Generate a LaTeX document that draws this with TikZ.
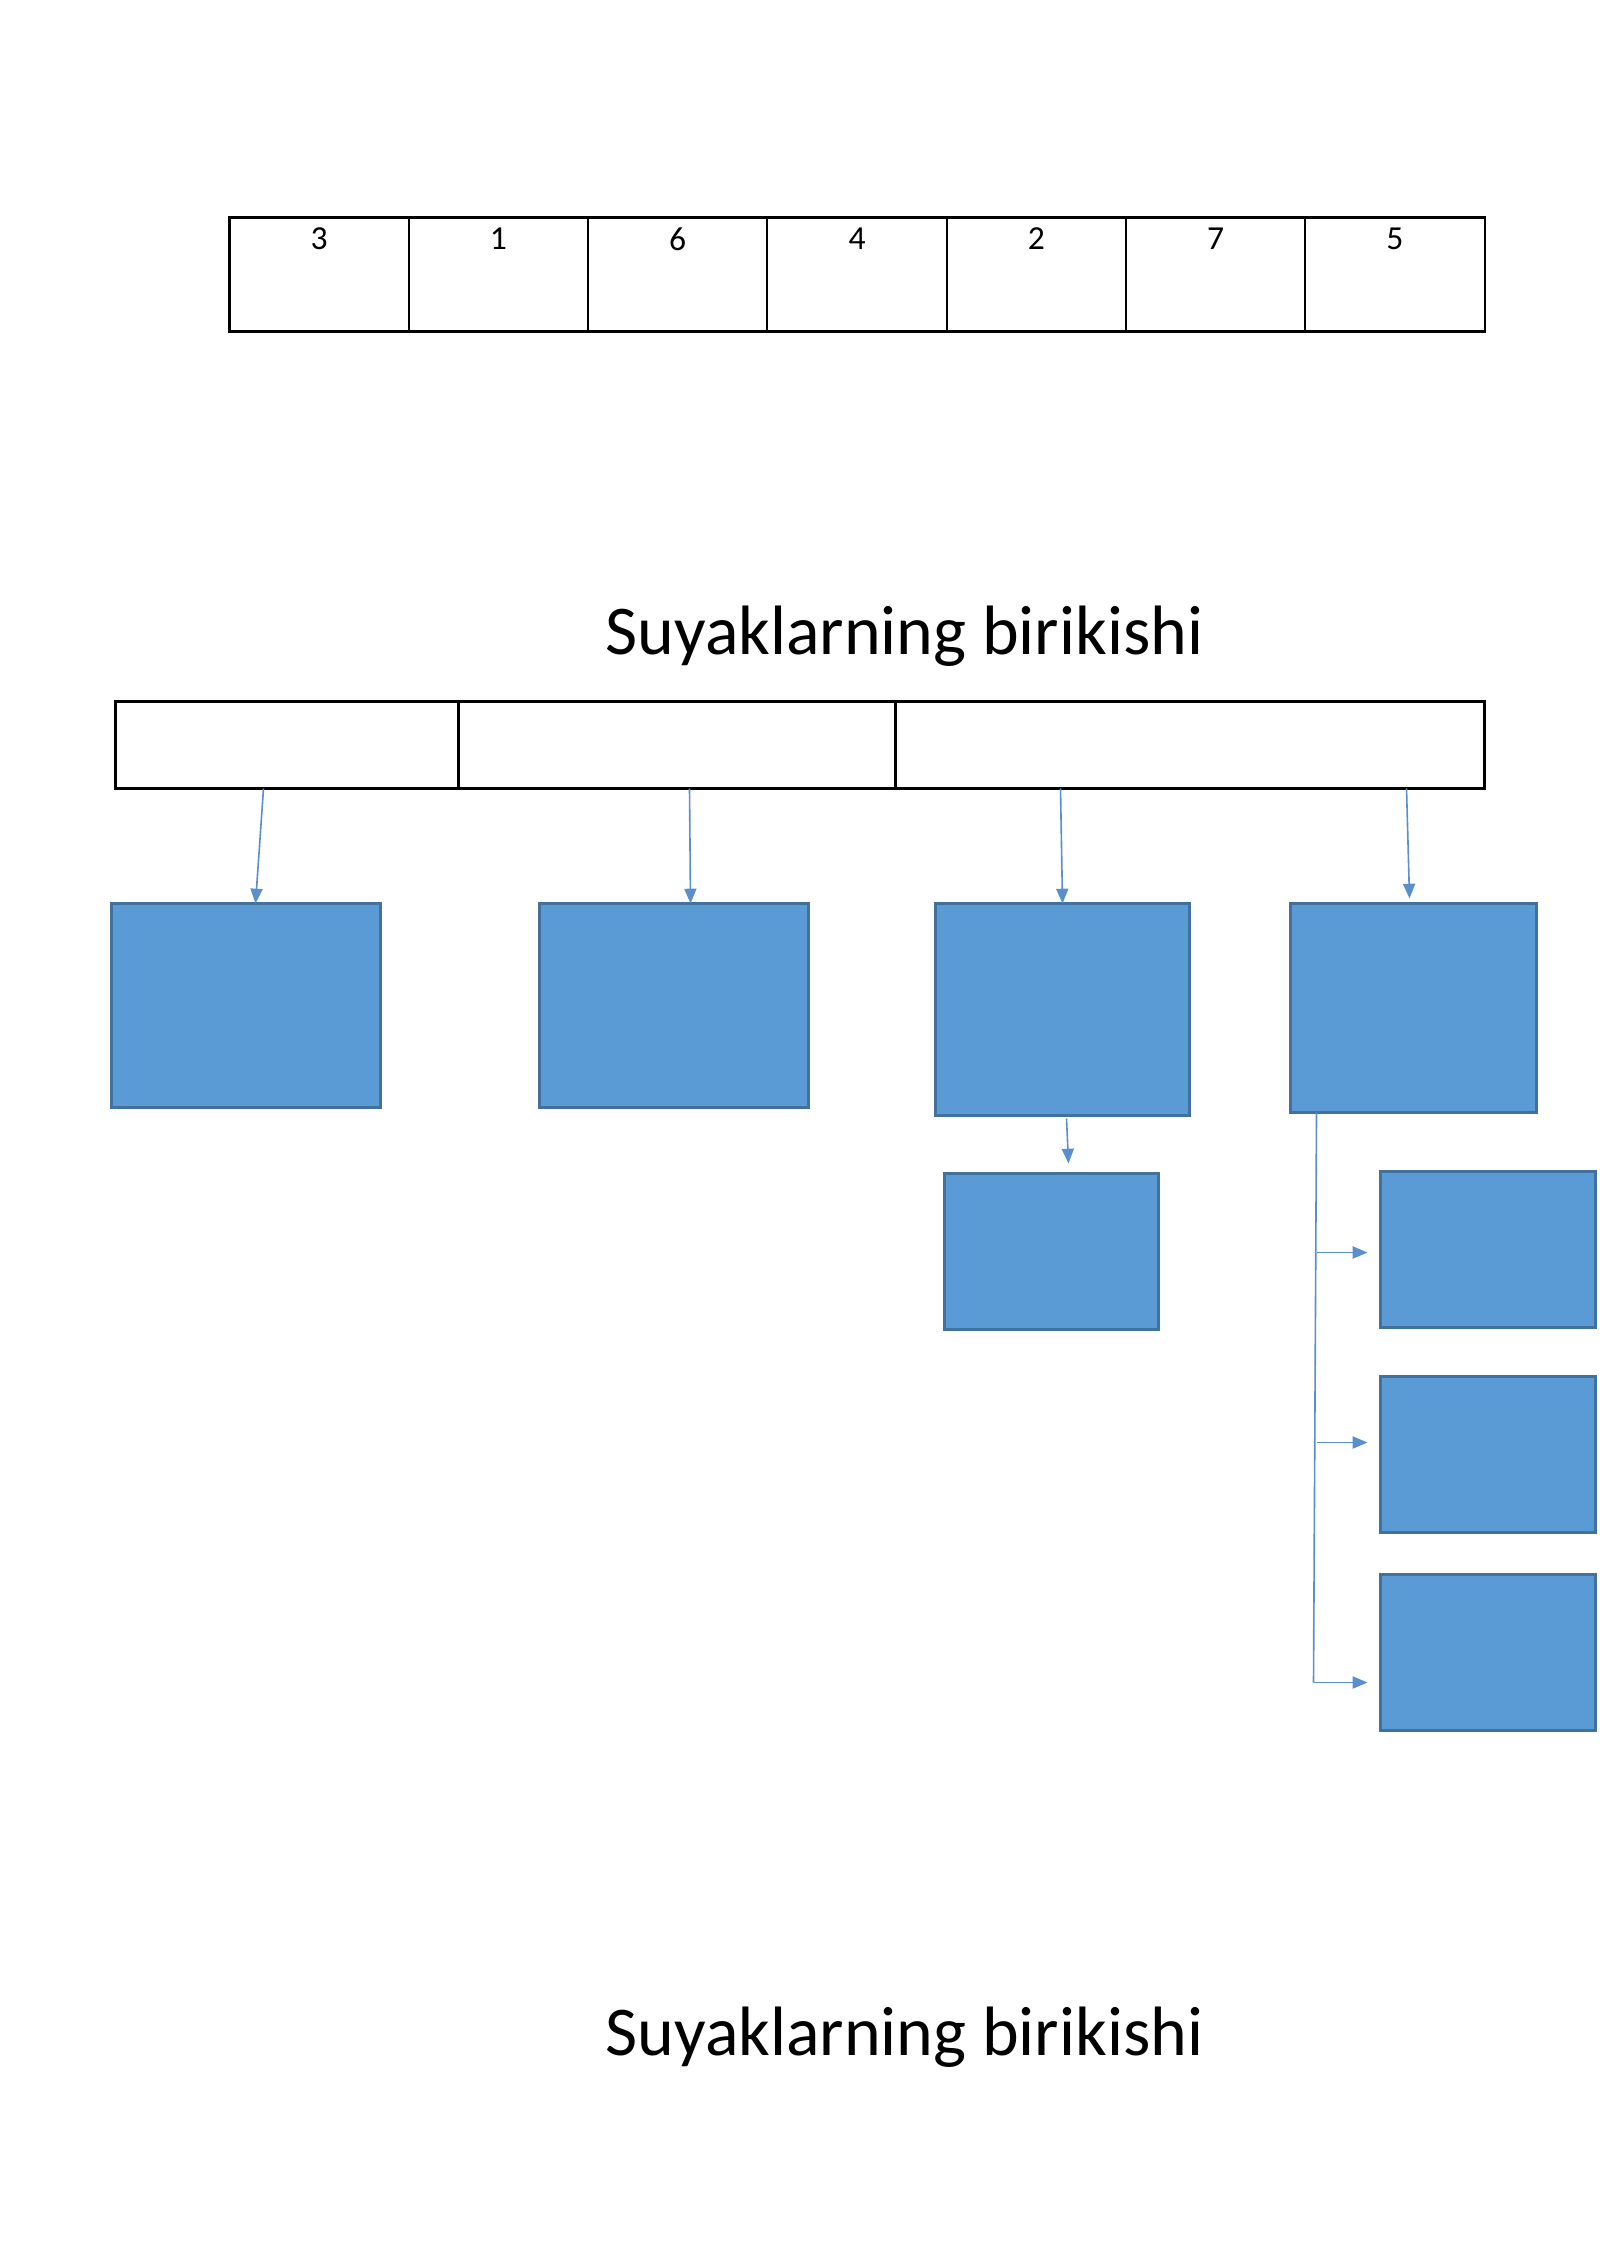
\documentclass[tikz,border=0pt]{standalone}
\usepackage{fontspec}
\setmainfont{Carlito}
\usetikzlibrary{arrows.meta,calc}
\definecolor{boxblue}{HTML}{5B9BD5}
\definecolor{boxline}{HTML}{41719C}
\definecolor{arrowblue}{HTML}{5B8FCC}
\newcommand\pxu{0.37206pt}
\tikzset{
  cell/.style={draw=black, line width=0.8pt, inner sep=0pt, outer sep=0pt, anchor=north west},
  bbox/.style={draw=boxline, fill=boxblue, line width=1pt, inner sep=0pt, outer sep=0pt, anchor=north west},
  conn/.style={draw=arrowblue, line width=0.6pt, -{Triangle[width=4.5pt,length=5.5pt]}},
  plainline/.style={draw=arrowblue, line width=0.6pt},
  digit/.style={font=\fontsize{12.5}{15}\selectfont},
  titlefont/.style={font=\fontsize{26}{31}\selectfont, anchor=base, inner sep=0pt}
}
\begin{document}
\begin{tikzpicture}[x=\pxu, y=-\pxu]
\useasboundingbox (0,0) rectangle (1600,2262);
\begin{scope}[shift={(1.5,1.5)}]
% top table
\foreach \d [count=\i from 0] in {3,1,6,4,2,7,5}{
  \node[cell, minimum width=179.3*\pxu, minimum height=114*\pxu,
        label={[anchor=north, inner sep=0pt, yshift=-3.6pt, digit]north:\d}]
        (c\i) at ({228+179.3*\i},216) {};
}
% title 1
\node[titlefont] (title1) at (903,653) {Suyaklarning birikishi};
% second table
\node[cell, minimum width=343*\pxu, minimum height=87*\pxu] (t1) at (114,700) {};
\node[cell, minimum width=437*\pxu, minimum height=87*\pxu] (t2) at (457,700) {};
\node[cell, minimum width=589*\pxu, minimum height=87*\pxu] (t3) at (894,700) {};
% blue boxes
\node[bbox, minimum width=269*\pxu, minimum height=204*\pxu] (b1) at (110,902) {};
\node[bbox, minimum width=269*\pxu, minimum height=204*\pxu] (b2) at (538,902) {};
\node[bbox, minimum width=254*\pxu, minimum height=212*\pxu] (b3) at (934,902) {};
\node[bbox, minimum width=246*\pxu, minimum height=209*\pxu] (b4) at (1289,902) {};
\node[bbox, minimum width=214*\pxu, minimum height=156*\pxu] (b5) at (943,1172) {};
\node[bbox, minimum width=215*\pxu, minimum height=156*\pxu] (b6) at (1379,1170) {};
\node[bbox, minimum width=215*\pxu, minimum height=156*\pxu] (b7) at (1379,1375) {};
\node[bbox, minimum width=215*\pxu, minimum height=156*\pxu] (b8) at (1379,1573) {};
% arrows from second table
\coordinate (s1) at ($(t1.south west)+(148,0)$);
\coordinate (s2) at ($(t2.south west)+(231,0)$);
\coordinate (s3) at ($(t3.south west)+(165,0)$);
\coordinate (s4) at ($(t3.south west)+(511,0)$);
\draw[conn] (s1) -- ($(b1.north)+(9.5,0)$);
\draw[conn] (s2) -- ($(b2.north)+(16.5,0)$);
\draw[conn] (s3) -- ($(b3.north)+(0,0)$);
\draw[conn] (s4) -- ($(b4.north)+(-4,-5)$);
\draw[conn] ($(b3.south)+(4,3)$) -- ($(b5.north)+(17,-10)$);
% bracket
\coordinate (v0) at ($(b4.south west)+(26,0)$);
\coordinate (v1) at (1312,1681);
\draw[plainline] (v0) -- (v1);
\coordinate (e6) at ($(b6.west)+(-13,3)$);
\coordinate (e7) at ($(b7.west)+(-13,-12)$);
\coordinate (e8) at ($(b8.west)+(-13,30)$);
\draw[conn] (v0 |- e6) -- (e6);
\draw[conn] (v0 |- e7) -- (e7);
\draw[conn] (v1 |- e8) -- (e8);
% title 2
\node[titlefont] (title2) at (903,2054) {Suyaklarning birikishi};
\end{scope}
\end{tikzpicture}
\end{document}
